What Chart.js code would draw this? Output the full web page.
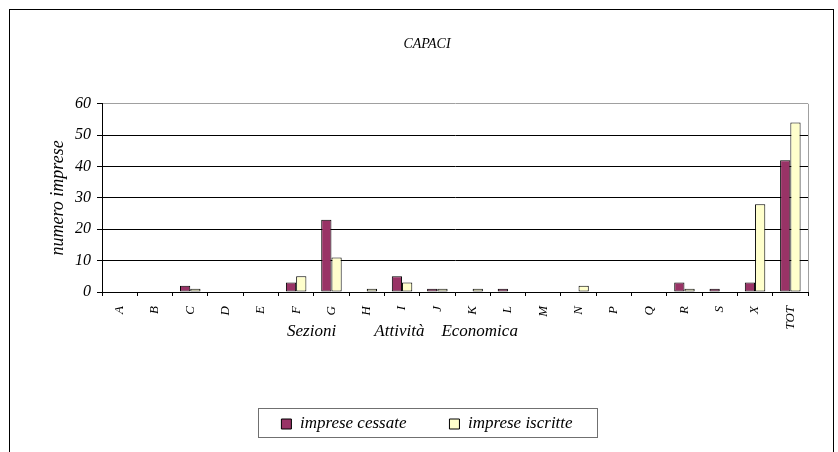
<!DOCTYPE html>
<html>
<head>
<meta charset="utf-8">
<script src="https://cdn.jsdelivr.net/npm/chart.js@4.4.1/dist/chart.umd.min.js"></script>
<style>
    body { margin: 0; background: #fff; }
    #wrap { position: relative; width: 838px; height: 452px; overflow: hidden; }
    #frame { position: absolute; left: 9px; top: 9px; width: 825px; height: 470px; border: 1px solid #000; box-sizing: border-box; }
    canvas { position: absolute; left: 0; top: 0; }
</style>
</head>
<body>
<div id="wrap">
    <div id="frame"></div>
    <canvas id="chart" width="838" height="452"></canvas>
</div>
<script>
const sezioni = ["A", "B", "C", "D", "E", "F", "G", "H", "I", "J", "K", "L", "M", "N", "P", "Q", "R", "S", "X", "TOT"]
const impreseCessate = [0, 0, 2, 0, 0, 3, 23, 0, 5, 1, 0, 1, 0, 0, 0, 0, 3, 1, 3, 42]
const impreseIscritte = [0, 0, 1, 0, 0, 5, 11, 1, 3, 1, 1, 0, 0, 2, 0, 0, 1, 0, 28, 54]
const yTicks = [0, 10, 20, 30, 40, 50, 60]

const serif = "'Liberation Serif', 'Times New Roman', serif"

// extra bits Excel draws: plot border on the right, axis title, legend frame
const extras = {
    id: "extras",
    afterDraw(chart) {
        const ctx = chart.ctx
        const area = chart.chartArea
        ctx.save()

        ctx.strokeStyle = "#a0a0a0"
        ctx.lineWidth = 1
        ctx.beginPath()
        ctx.moveTo(Math.round(area.right) + 0.5, area.top)
        ctx.lineTo(Math.round(area.right) + 0.5, area.bottom)
        ctx.stroke()

        ctx.fillStyle = "#000"
        ctx.font = "italic 17px " + serif
        ctx.textAlign = "left"
        ctx.textBaseline = "alphabetic"
        ctx.fillText("Sezioni         Attività    Economica", area.left + 185, 336)

        const boxes = chart.legend.legendHitBoxes
        if (boxes && boxes.length) {
            const first = boxes[0]
            const last = boxes[boxes.length - 1]
            const mid = first.top + first.height / 2
            const x1 = Math.round(first.left - 23) + 0.5
            const x2 = Math.round(last.left + last.width + 24) + 0.5
            ctx.strokeStyle = "#707070"
            ctx.strokeRect(x1, Math.round(mid - 16) + 0.5, x2 - x1, 29)
        }
        ctx.restore()
    }
}

const myChart = new Chart("chart", {
    type: "bar",
    data: {
        labels: sezioni,
        datasets: [{
            label: "imprese cessate",
            data: impreseCessate,
            backgroundColor: "#993366",
            borderColor: "#000",
            borderWidth: 1,
            borderSkipped: false
        }, {
            label: "imprese iscritte",
            data: impreseIscritte,
            backgroundColor: "#ffffcc",
            borderColor: "#000",
            borderWidth: 1,
            borderSkipped: false
        }]
    },
    options: {
        responsive: false,
        animation: false,
        layout: {
            padding: { left: 46, right: 30, top: 0, bottom: 9.5 }
        },
        datasets: {
            bar: { categoryPercentage: 0.58, barPercentage: 1 }
        },
        plugins: {
            title: {
                display: true,
                text: "CAPACI",
                color: "#000",
                font: { family: serif, size: 14, style: "italic", weight: "normal", lineHeight: 1.2 },
                padding: { top: 36, bottom: 51 }
            },
            legend: {
                position: "bottom",
                labels: {
                    color: "#000",
                    boxWidth: 10,
                    boxHeight: 10,
                    padding: 43,
                    font: { family: serif, size: 17, style: "italic" }
                }
            },
            tooltip: { enabled: false }
        },
        scales: {
            x: {
                afterFit: (scale) => { scale.height = 80.5 },
                grid: {
                    drawOnChartArea: false,
                    drawTicks: true,
                    tickLength: 4,
                    color: "#000",
                    tickColor: "#000"
                },
                border: { color: "#000", width: 1 },
                ticks: {
                    color: "#000",
                    minRotation: 90,
                    maxRotation: 90,
                    padding: 10,
                    autoSkip: false,
                    font: { family: serif, size: 13, style: "italic" }
                }
            },
            y: {
                min: yTicks[0],
                max: yTicks[yTicks.length - 1],
                afterFit: (scale) => { scale.width = 56 },
                afterBuildTicks: (scale) => { scale.ticks = yTicks.map(v => ({ value: v })) },
                grid: {
                    color: (c) => c.tick && c.tick.value === 60 ? "#a0a0a0" : "#000",
                    tickColor: "#000",
                    tickLength: 5
                },
                border: { color: "#000", width: 1 },
                ticks: {
                    color: "#000",
                    padding: 6,
                    font: { family: serif, size: 16, style: "italic" }
                },
                title: {
                    display: true,
                    text: "numero imprese",
                    color: "#000",
                    font: { family: serif, size: 18, style: "italic", lineHeight: 1.2 },
                    padding: { top: 1, bottom: 0 }
                }
            }
        }
    },
    plugins: [extras]
})
</script>
</body>
</html>
